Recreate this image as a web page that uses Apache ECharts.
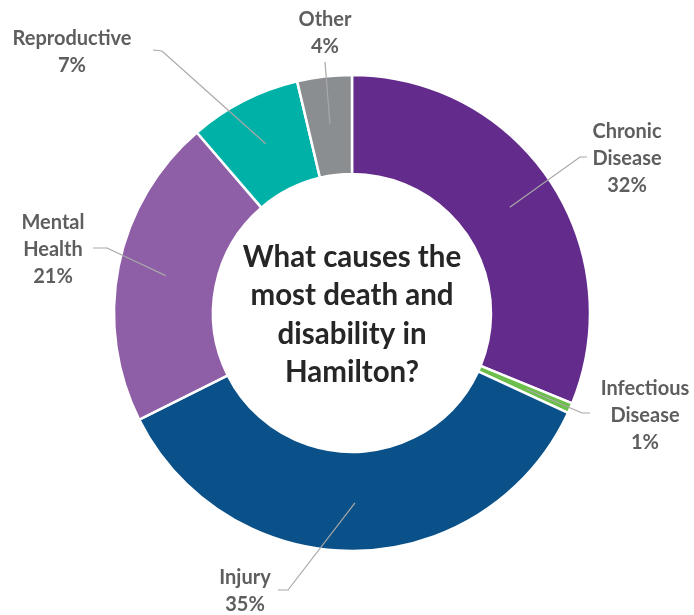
<!DOCTYPE html>
<html><head><meta charset="utf-8">
<script src="https://cdn.jsdelivr.net/npm/echarts@6/dist/echarts.min.js"></script>
<style>html,body{margin:0;padding:0;background:#fff}#chart{width:694px;height:615px}</style>
</head><body><div id="chart"></div>
<script>
// ---- data ----
const categories = ['Chronic\nDisease', 'Infectious\nDisease', 'Injury', 'Mental\nHealth', 'Reproductive', 'Other'];
const values = [31.2, 0.7, 35.7, 21.1, 7.6, 3.7];
const percentLabels = ['32%', '1%', '35%', '21%', '7%', '4%'];
const centerText = 'What causes the\nmost death and\ndisability in\nHamilton?';

// ---- styles / layout ----
const colors = ['#632c8c', '#6cbf4a', '#0b5189', '#8e5ea7', '#00b1a8', '#8b8e91'];
const CX = 352, CY = 313, R_IN = 139, R_OUT = 238, R_LEAD = 190;
const labelPos = [[627, 159], [645, 416], [245, 591], [53, 250], [72, 52], [325, 33]];
const elbows   = [[580, 157], [582, 413], [288, 590], [107, 248], [162, 51], [325, 62]];
const ends     = [[587, 157], [590, 413], [278, 590], [93, 248], [153, 50], [325, 62]];

const pieData = categories.map((c, i) => ({ name: c, value: values[i], itemStyle: { color: colors[i] } }));

const chart = echarts.init(document.getElementById('chart'));
chart.setOption({
  animation: false,
  backgroundColor: '#fff',
  series: [{
    type: 'pie',
    center: [CX, CY],
    radius: [R_IN, R_OUT],
    startAngle: 90,
    clockwise: true,
    silent: true,
    avoidLabelOverlap: false,
    data: pieData,
    itemStyle: { borderColor: '#fff', borderWidth: 2.5 },
    label: {
      show: true, position: 'outside',
      formatter: p => p.name + '\n' + percentLabels[p.dataIndex],
      fontFamily: 'Lato', fontWeight: 'bold', fontSize: 20, lineHeight: 27,
      color: '#5e5e5e', align: 'center'
    },
    labelLine: { show: false },
    labelLayout: function (params) {
      const i = params.dataIndex;
      return { x: labelPos[i][0], y: labelPos[i][1], align: 'center', verticalAlign: 'middle' };
    }
  }]
});

// leader lines: start inside each slice at its mid-angle (taken from the pie's own layout)
const pieSeriesData = chart.getModel().getSeriesByIndex(0).getData();
const graphics = [];
categories.forEach((c, i) => {
  const lay = pieSeriesData.getItemLayout(i);
  const mid = (lay.startAngle + lay.endAngle) / 2;
  const start = [lay.cx + R_LEAD * Math.cos(mid), lay.cy + R_LEAD * Math.sin(mid)];
  graphics.push({
    type: 'polyline', z: 50, silent: true,
    shape: { points: [start, elbows[i], ends[i]] },
    style: { stroke: '#a8a8a8', lineWidth: 1.2, fill: null }
  });
});
graphics.push({
  type: 'text', x: CX, y: CY + 2, z: 100,
  style: {
    text: centerText, align: 'center', verticalAlign: 'middle',
    fontFamily: 'Lato', fontWeight: 'bold', fontSize: 29.5, lineHeight: 38.5, fill: '#262626'
  }
});
chart.setOption({ graphic: graphics });
</script>
</body></html>
